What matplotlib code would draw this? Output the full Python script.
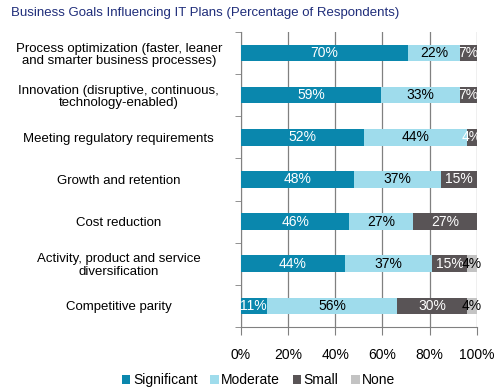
import matplotlib.pyplot as plt
import numpy as np

plt.rcParams['font.family'] = ['Liberation Sans', 'DejaVu Sans']

categories = ["Process optimization (faster, leaner\nand smarter business processes)",
              "Innovation (disruptive, continuous,\ntechnology-enabled)",
              "Meeting regulatory requirements",
              "Growth and retention",
              "Cost reduction",
              "Activity, product and service\ndiversification",
              "Competitive parity"]
significant = [70, 59, 52, 48, 46, 44, 11]
moderate = [22, 33, 44, 37, 27, 37, 56]
small = [7, 7, 4, 15, 27, 15, 30]
none = [0, 0, 0, 0, 0, 4, 4]

series = ["Significant", "Moderate", "Small", "None"]
colors = ["#0a87ad", "#9fdcec", "#595456", "#c3c3c3"]
text_colors = ["white", "black", "white", "black"]

fig = plt.figure(figsize=(5.04, 3.91), dpi=100)
ax = fig.add_axes([0.478, 0.164, 0.468, 0.754])

data = np.array([significant, moderate, small, none], dtype=float)
data = data / data.sum(axis=0) * 100
y = np.arange(len(categories))
left = np.zeros(len(categories))
labels = [significant, moderate, small, none]
for i, name in enumerate(series):
    ax.barh(y, data[i], left=left, height=0.39, color=colors[i], label=name, zorder=3)
    for j in range(len(categories)):
        v = labels[i][j]
        if v >= 4:
            ax.text(left[j] + data[i][j] / 2, y[j], f"{v}%", ha='center', va='center',
                    color=text_colors[i], fontsize=10, zorder=4)
    left += data[i]

ax.set_xlim(0, 100)
ax.set_ylim(len(categories) - 0.5, -0.5)
ax.set_xticks(np.arange(0, 101, 20))
ax.set_xticklabels([f"{t}%" for t in range(0, 101, 20)], fontsize=10)
ax.set_yticks(y)
ax.set_yticklabels(categories, fontsize=9.5, ha='center', linespacing=1.05)
ax.tick_params(axis='y', length=0, pad=88)
ax.set_yticks(np.arange(-0.5, len(categories), 1), minor=True)
ax.tick_params(axis='y', which='minor', length=4, color='#808080')
ax.tick_params(axis='x', length=6, pad=9, color='#808080')
ax.grid(axis='x', color='#808080', linewidth=0.9, zorder=0)
for s in ['top', 'right']:
    ax.spines[s].set_visible(False)
for s in ['left', 'bottom']:
    ax.spines[s].set_color('#808080')

fig.text(0.022, 0.968, "Business Goals Influencing IT Plans (Percentage of Respondents)",
         fontsize=9.5, color='#1f2d7a', va='center')

ax.legend(loc='upper center', bbox_to_anchor=(0.076, -0.115), ncol=4, frameon=False,
          fontsize=10, handlelength=0.6, handleheight=0.6, handletextpad=0.2,
          columnspacing=0.9)

fig.savefig("out.png", dpi=100)
